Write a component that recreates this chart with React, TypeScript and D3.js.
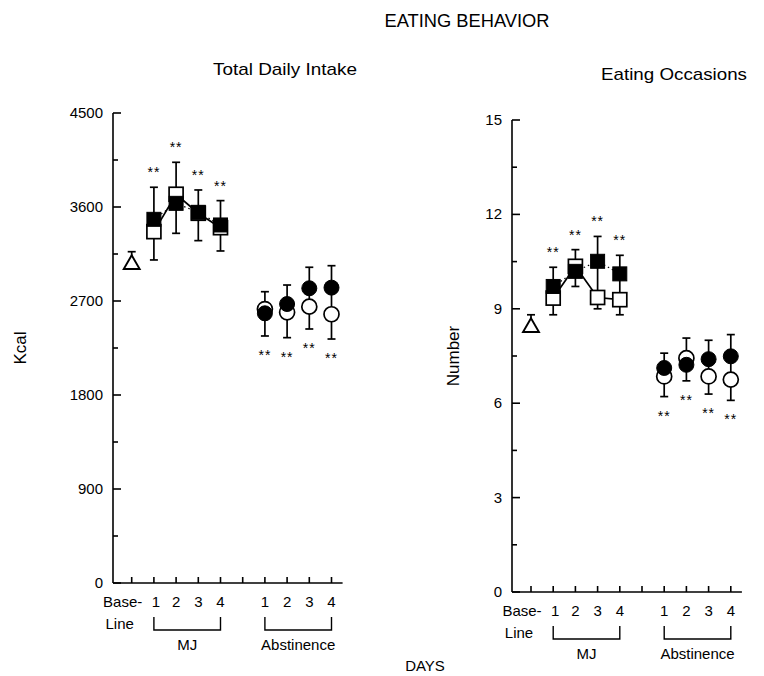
import React from "react";
import * as d3 from "d3";

// x positions: 1 = baseline, 2..5 = MJ days 1-4, 7..10 = abstinence days 1-4
const tickIdx = [1, 2, 3, 4, 5, 6, 7, 8, 9, 10];
const dayIdx = [2, 3, 4, 5];
const absIdx = [7, 8, 9, 10];
const dayNames = ["1", "2", "3", "4"];

// Total Daily Intake (Kcal)
const kcalTicks = [0, 900, 1800, 2700, 3600, 4500];
const kcalBase = 3060;
const kcalBaseHi = 3172;
const kcalMjFilled = [3482, 3635, 3549, 3428];
const kcalMjOpen = [3364, 3722, 3540, 3402];
const kcalMjHi = [3789, 4028, 3763, 3661];
const kcalMjLo = [3093, 3348, 3278, 3179];
const kcalAbsFilled = [2582, 2671, 2822, 2828];
const kcalAbsOpen = [2623, 2592, 2646, 2573];
const kcalAbsHi = [2789, 2853, 3023, 3038];
const kcalAbsLo = [2365, 2349, 2432, 2336];

// Eating Occasions (Number)
const numTicks = [0, 3, 6, 9, 12, 15];
const numBase = 8.44;
const numBaseHi = 8.81;
const numMjFilled = [9.71, 10.19, 10.51, 10.11];
const numMjOpen = [9.34, 10.35, 9.36, 9.29];
const numMjHi = [10.32, 10.88, 11.3, 10.7];
const numMjLo = [8.81, 9.71, 9.0, 8.81];
const numAbsFilled = [7.12, 7.22, 7.4, 7.49];
const numAbsOpen = [6.85, 7.43, 6.85, 6.75];
const numAbsHi = [7.59, 8.07, 8.0, 8.18];
const numAbsLo = [6.21, 6.71, 6.29, 6.09];

const font = "'Liberation Sans', Arial, Helvetica, sans-serif";

function Panel(props: any) {
  const { x0, axisX, yTop, yBot, max, ticks, base, baseHi, mjF, mjO, mjHi, mjLo, abF, abO, abHi, abLo, ylabel, ylabelX } = props;
  const x = d3.scaleLinear().domain([0, 10]).range([x0, x0 + 222]);
  const y = d3.scaleLinear().domain([0, max]).range([yBot, yTop]);
  const minor = d3.range(0, max, max / 10).filter((v) => !ticks.includes(v));
  const sq = 14;
  const r = 7.5;
  const cap = 4;
  const lineOpen = d3.line<number>().x((d, i) => x(dayIdx[i])).y((d) => y(d));
  const tri = d3.symbol().type(d3.symbolTriangle).size(110);

  const errBar = (xi: number, lo: number, hi: number, key: string) => (
    <g key={key}>
      <line x1={x(xi)} x2={x(xi)} y1={y(lo)} y2={y(hi)} stroke="#000" strokeWidth={1.7} />
      <line x1={x(xi) - cap} x2={x(xi) + cap} y1={y(hi)} y2={y(hi)} stroke="#000" strokeWidth={1.7} />
      <line x1={x(xi) - cap} x2={x(xi) + cap} y1={y(lo)} y2={y(lo)} stroke="#000" strokeWidth={1.7} />
    </g>
  );
  const stars = (xi: number, yy: number, key: string) => (
    <text key={key} x={x(xi)} y={yy + 8} textAnchor="middle" fontSize={14} letterSpacing={1} fontFamily={font}>
      **
    </text>
  );

  return (
    <g>
      {/* y axis */}
      <line x1={axisX} x2={axisX} y1={yTop} y2={yBot} stroke="#000" strokeWidth={1.6} />
      {ticks.map((t: number) => (
        <g key={"t" + t}>
          <line x1={axisX} x2={axisX + 8} y1={y(t)} y2={y(t)} stroke="#000" strokeWidth={1.6} />
          <text x={axisX - 10} y={y(t) + 5} textAnchor="end" fontSize={15} fontFamily={font}>
            {t}
          </text>
        </g>
      ))}
      {minor.map((t: number) => (
        <line key={"m" + t} x1={axisX} x2={axisX + 5} y1={y(t)} y2={y(t)} stroke="#000" strokeWidth={1.6} />
      ))}
      <text
        transform={`translate(${ylabelX},${(yTop + yBot) / 2}) rotate(-90)`}
        textAnchor="middle"
        fontSize={17}
        fontFamily={font}
      >
        {ylabel}
      </text>

      {/* x axis */}
      <line x1={axisX} x2={x(10.5)} y1={yBot} y2={yBot} stroke="#000" strokeWidth={1.6} />
      {tickIdx.map((t) => (
        <line key={"x" + t} x1={x(t)} x2={x(t)} y1={yBot} y2={yBot - 6} stroke="#000" strokeWidth={1.6} />
      ))}
      <text x={x(1) - 9} y={yBot + 24} textAnchor="middle" fontSize={15} fontFamily={font}>Base-</text>
      <text x={x(1) - 12} y={yBot + 46} textAnchor="middle" fontSize={15} fontFamily={font}>Line</text>
      {dayIdx.map((d, i) => (
        <text key={"dm" + d} x={x(d) + (i === 0 ? 2 : 0)} y={yBot + 24} textAnchor="middle" fontSize={15} fontFamily={font}>{dayNames[i]}</text>
      ))}
      {absIdx.map((d, i) => (
        <text key={"da" + d} x={x(d)} y={yBot + 24} textAnchor="middle" fontSize={15} fontFamily={font}>{dayNames[i]}</text>
      ))}
      <path
        d={`M${x(2)},${yBot + 34}V${yBot + 47}H${x(5)}V${yBot + 34}`}
        fill="none"
        stroke="#000"
        strokeWidth={1.4}
      />
      <path
        d={`M${x(7)},${yBot + 34}V${yBot + 47}H${x(10)}V${yBot + 34}`}
        fill="none"
        stroke="#000"
        strokeWidth={1.4}
      />
      <text x={(x(2) + x(5)) / 2} y={yBot + 67} textAnchor="middle" fontSize={15} fontFamily={font}>MJ</text>
      <text x={(x(7) + x(10)) / 2} y={yBot + 67} textAnchor="middle" fontSize={15} fontFamily={font}>Abstinence</text>

      {/* baseline */}
      <line x1={x(1)} x2={x(1)} y1={y(base)} y2={y(baseHi)} stroke="#000" strokeWidth={1.7} />
      <line x1={x(1) - cap} x2={x(1) + cap} y1={y(baseHi)} y2={y(baseHi)} stroke="#000" strokeWidth={1.7} />
      <path d={tri() as string} transform={`translate(${x(1)},${y(base) + 1})`} fill="#fff" stroke="#000" strokeWidth={1.9} />

      {/* error bars */}
      {dayIdx.map((d, i) => errBar(d, mjLo[i], mjHi[i], "em" + d))}
      {absIdx.map((d, i) => errBar(d, abLo[i], abHi[i], "ea" + d))}

      {/* connecting lines */}
      <path d={lineOpen(mjO) as string} fill="none" stroke="#000" strokeWidth={1.7} />
      <path d={lineOpen(mjF) as string} fill="none" stroke="#000" strokeWidth={1.2} strokeDasharray="1.5 3" />

      {/* MJ squares */}
      {dayIdx.map((d, i) => (
        <rect key={"so" + d} x={x(d) - sq / 2} y={y(mjO[i]) - sq / 2} width={sq} height={sq} fill="#fff" stroke="#000" strokeWidth={1.7} />
      ))}
      {dayIdx.map((d, i) => (
        <rect key={"sf" + d} x={x(d) - sq / 2} y={y(mjF[i]) - sq / 2} width={sq} height={sq} fill="#000" stroke="#000" strokeWidth={1} />
      ))}

      {/* abstinence circles */}
      {absIdx.map((d, i) => (
        <circle key={"co" + d} cx={x(d)} cy={y(abO[i])} r={r} fill="#fff" stroke="#000" strokeWidth={1.7} />
      ))}
      {absIdx.map((d, i) => (
        <circle key={"cf" + d} cx={x(d)} cy={y(abF[i])} r={r} fill="#000" stroke="#000" strokeWidth={1} />
      ))}

      {/* significance */}
      {dayIdx.map((d, i) => stars(d, y(mjHi[i]) - 18, "st" + d))}
      {absIdx.map((d, i) => stars(d, y(abLo[i]) + 16, "sa" + d))}
    </g>
  );
}

export default function App() {
  return (
    <svg width={764} height={676} style={{ display: "block", position: "absolute", left: 0, top: 0, background: "#fff" }}>
      <rect width={764} height={676} fill="#fff" />
      <text x={467} y={27} textAnchor="middle" fontSize={18} fontFamily={font} textLength={165} lengthAdjust="spacingAndGlyphs">
        EATING BEHAVIOR
      </text>
      <text x={285} y={75} textAnchor="middle" fontSize={17} fontFamily={font} textLength={144} lengthAdjust="spacingAndGlyphs">
        Total Daily Intake
      </text>
      <text x={674} y={80} textAnchor="middle" fontSize={17} fontFamily={font} textLength={146} lengthAdjust="spacingAndGlyphs">
        Eating Occasions
      </text>
      <text x={425} y={671} textAnchor="middle" fontSize={15} fontFamily={font}>
        DAYS
      </text>
      <Panel
        x0={109.5}
        axisX={113}
        yTop={113}
        yBot={583}
        max={4500}
        ticks={kcalTicks}
        base={kcalBase}
        baseHi={kcalBaseHi}
        mjF={kcalMjFilled}
        mjO={kcalMjOpen}
        mjHi={kcalMjHi}
        mjLo={kcalMjLo}
        abF={kcalAbsFilled}
        abO={kcalAbsOpen}
        abHi={kcalAbsHi}
        abLo={kcalAbsLo}
        ylabel="Kcal"
        ylabelX={26}
      />
      <Panel
        x0={508.8}
        axisX={512}
        yTop={120}
        yBot={592}
        max={15}
        ticks={numTicks}
        base={numBase}
        baseHi={numBaseHi}
        mjF={numMjFilled}
        mjO={numMjOpen}
        mjHi={numMjHi}
        mjLo={numMjLo}
        abF={numAbsFilled}
        abO={numAbsOpen}
        abHi={numAbsHi}
        abLo={numAbsLo}
        ylabel="Number"
        ylabelX={459}
      />
    </svg>
  );
}
